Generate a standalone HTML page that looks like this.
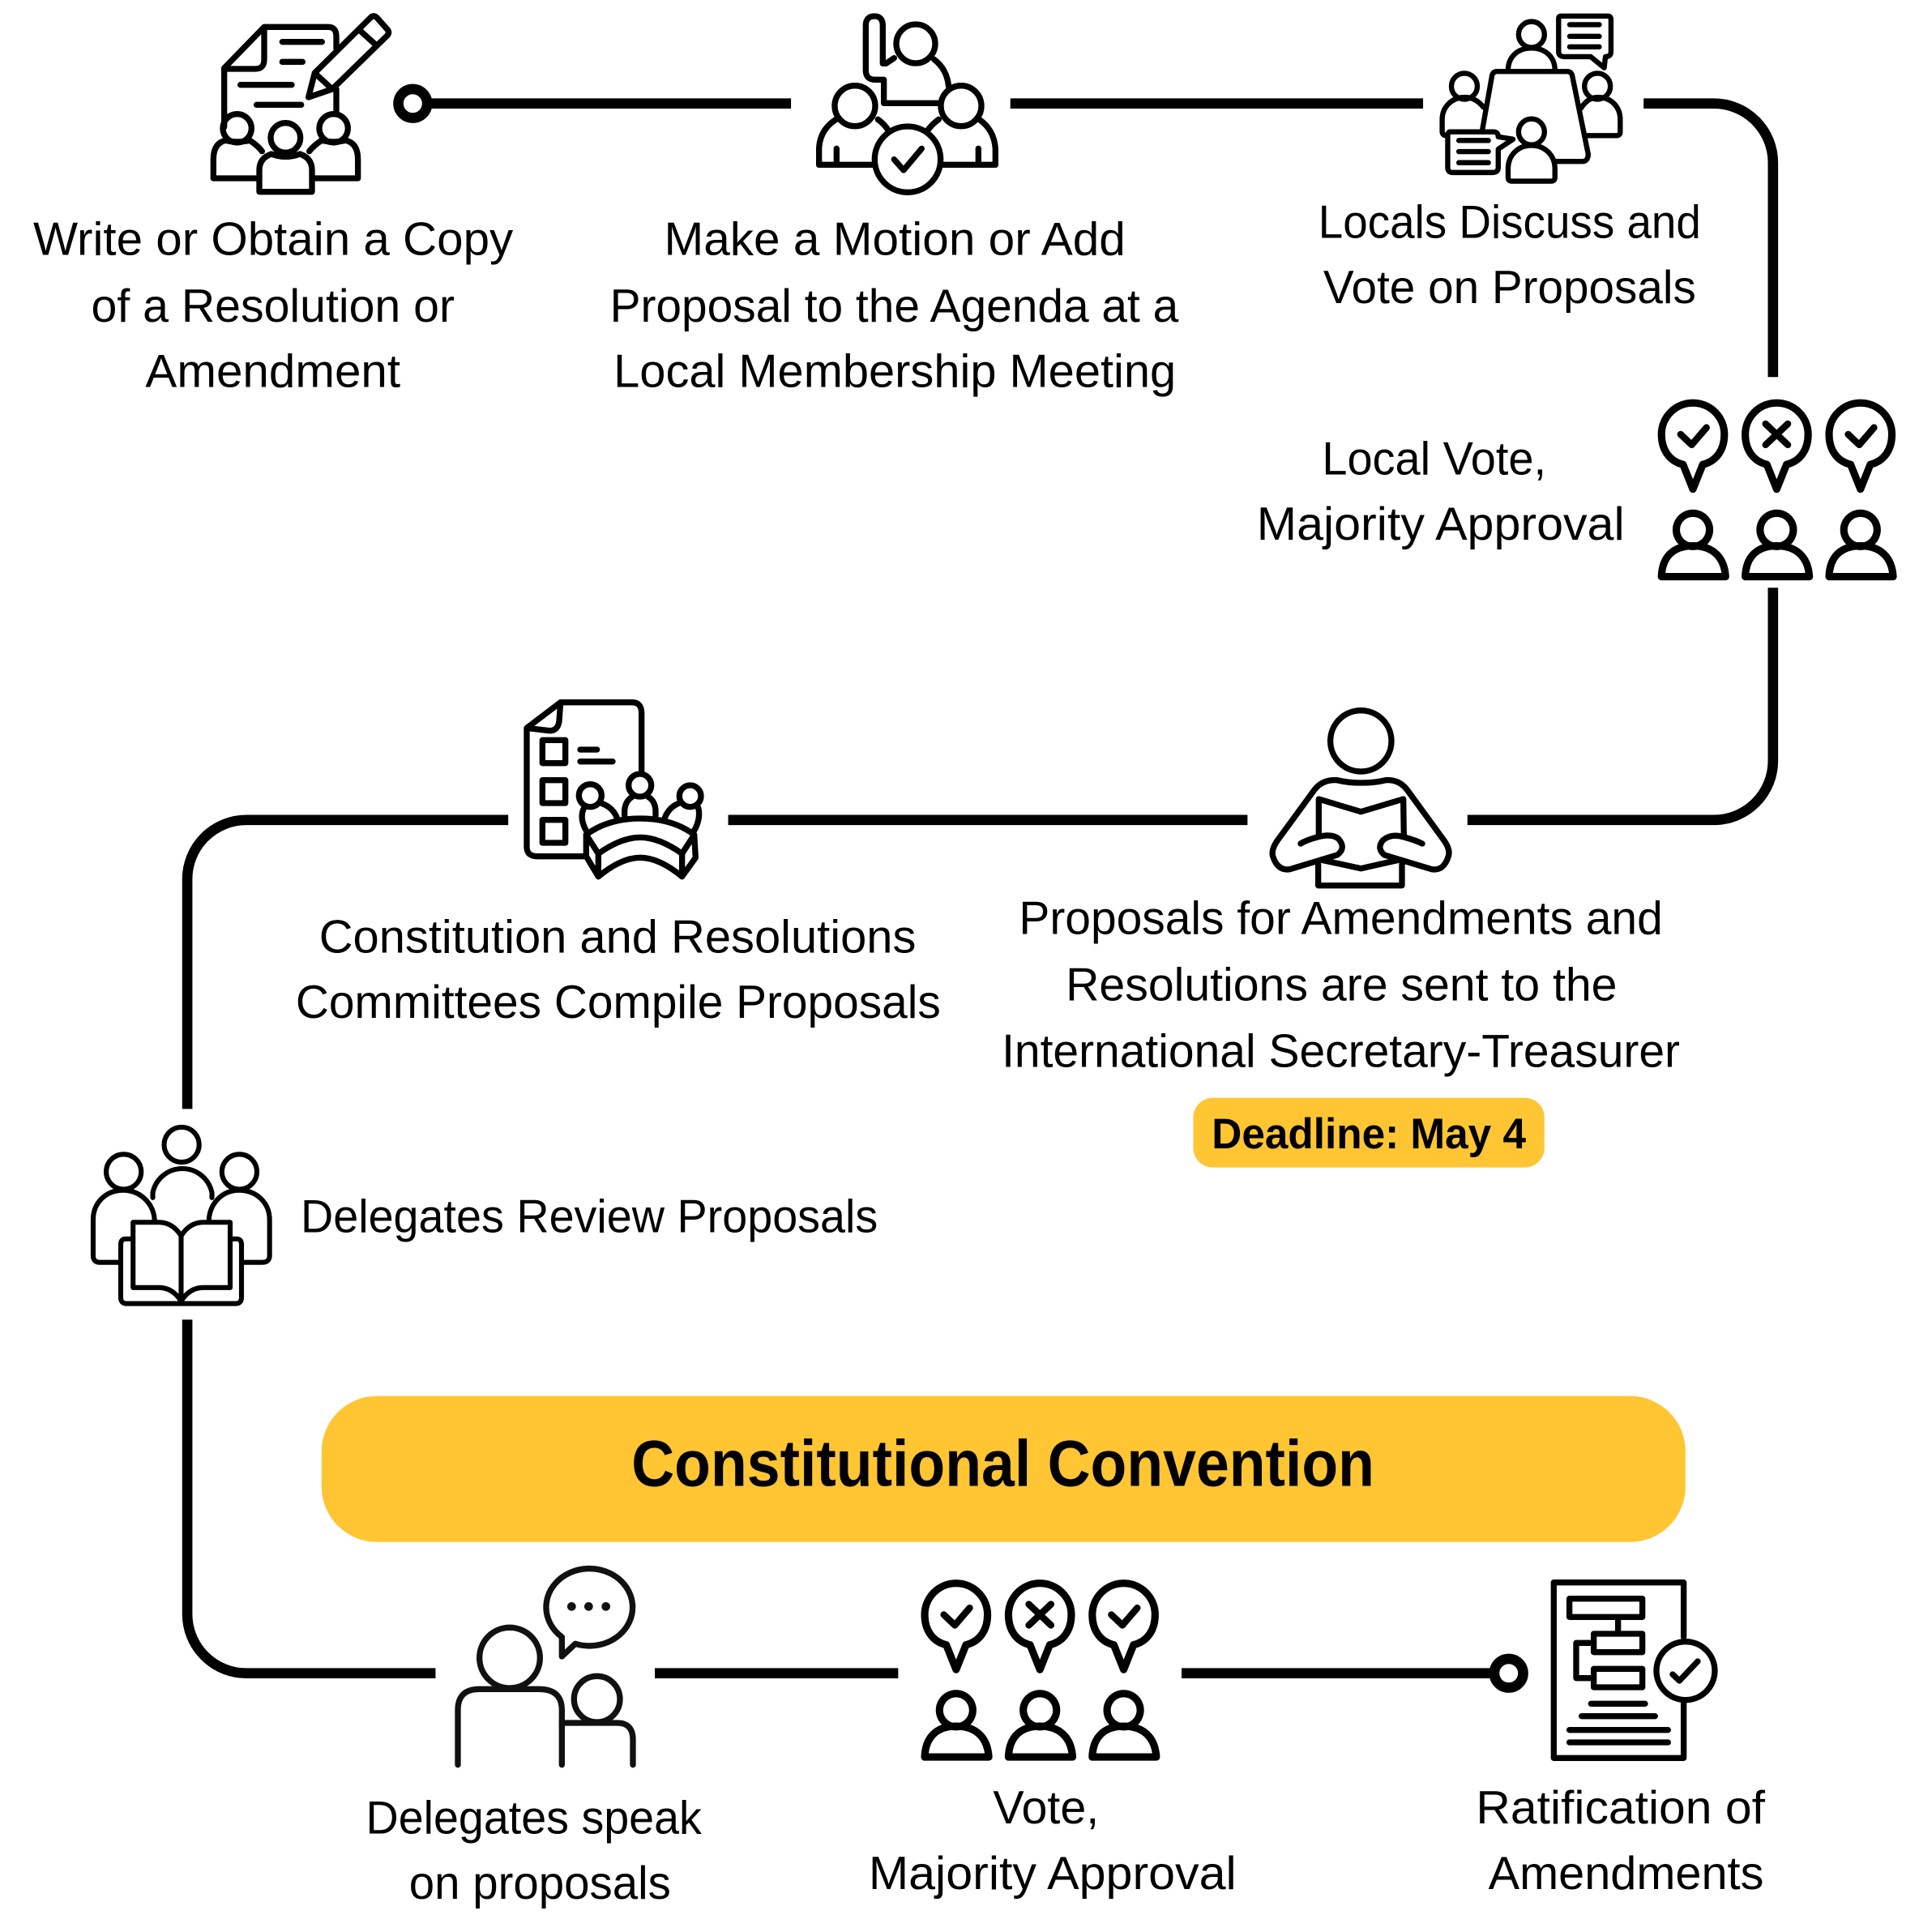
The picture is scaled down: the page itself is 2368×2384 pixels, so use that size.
<!DOCTYPE html>
<html><head><meta charset="utf-8"><style>
html,body{margin:0;padding:0;background:#fff}
svg{display:block}
text{font-family:"Liberation Sans",sans-serif;font-size:38px;fill:#000}
.c{fill:none;stroke:#000;stroke-width:8.3}
.i{fill:none;stroke:#000;stroke-width:4.4;stroke-linecap:round;stroke-linejoin:round}
.z{fill:none;stroke:#000;stroke-width:22;stroke-linecap:round;stroke-linejoin:round}
.w{fill:#fff}
</style></head><body>
<svg width="2368" height="2384" viewBox="0 0 1557.5 1568" xmlns="http://www.w3.org/2000/svg">
<defs>
<g id="vote">
<path d="M1366 377 C1354 374 1348.500 364 1348.500 352.500 A25.500 25.500 0 0 1 1399.500 352.500 C1399.500 364 1394 374 1382 377 L1374 397 Z" style="stroke-width:6"/>
<path d="M1348.500 468 C1349 452 1358 443 1374 443 C1390 443 1399.500 452 1400.500 468 Z M1374 416.500 a13.500 13.500 0 1 0 .01 0Z" style="stroke-width:6"/>
</g>
</defs>

<!-- connectors -->
<path class="c" d="M349 84H642M820 84H1155M1334 84H1391A48 48 0 0 1 1439 132V306M1439 477V617.500A48 48 0 0 1 1391 665.500H1191M1012.500 665.500H591M412.500 665.500H200A48 48 0 0 0 152 713.500V900M152 1071V1310A48 48 0 0 0 200 1358H353.500M531.500 1358H729M959 1358H1212"/>
<circle cx="335" cy="84" r="11.700" fill="#fff" stroke="#000" stroke-width="8.300"/>
<circle cx="1224.500" cy="1358" r="11.700" fill="#fff" stroke="#000" stroke-width="8.300"/>

<!-- badges -->
<rect x="968.500" y="891" width="285" height="56.500" rx="16" fill="#FFC533"/>
<rect x="261" y="1133" width="1107" height="118.500" rx="45" fill="#FFC533"/>
<text x="983.500" y="932" textLength="255" lengthAdjust="spacingAndGlyphs" style="font-weight:700;font-size:35px">Deadline: May 4</text>
<text x="512.500" y="1206" textLength="603" lengthAdjust="spacingAndGlyphs" style="font-weight:700;font-size:53px">Constitutional Convention</text>

<!-- labels -->
<g>
<text x="27" y="207" textLength="389.500" lengthAdjust="spacingAndGlyphs">Write or Obtain a Copy</text>
<text x="74" y="261" textLength="295" lengthAdjust="spacingAndGlyphs">of a Resolution or</text>
<text x="118" y="314" textLength="207" lengthAdjust="spacingAndGlyphs">Amendment</text>
<text x="539" y="207" textLength="374.500" lengthAdjust="spacingAndGlyphs">Make a Motion or Add</text>
<text x="495" y="261" textLength="461.500" lengthAdjust="spacingAndGlyphs">Proposal to the Agenda at a</text>
<text x="498" y="314" textLength="456.500" lengthAdjust="spacingAndGlyphs">Local Membership Meeting</text>
<text x="1070" y="193" textLength="310.500" lengthAdjust="spacingAndGlyphs">Locals Discuss and</text>
<text x="1074" y="246" textLength="302.500" lengthAdjust="spacingAndGlyphs">Vote on Proposals</text>
<text x="1073" y="385" textLength="182" lengthAdjust="spacingAndGlyphs">Local Vote,</text>
<text x="1020" y="438" textLength="298.500" lengthAdjust="spacingAndGlyphs">Majority Approval</text>
<text x="259" y="773" textLength="484.500" lengthAdjust="spacingAndGlyphs">Constitution and Resolutions</text>
<text x="240" y="826" textLength="523.500" lengthAdjust="spacingAndGlyphs">Committees Compile Proposals</text>
<text x="827" y="758" textLength="522.500" lengthAdjust="spacingAndGlyphs">Proposals for Amendments and</text>
<text x="865" y="812" textLength="447.500" lengthAdjust="spacingAndGlyphs">Resolutions are sent to the</text>
<text x="813" y="866" textLength="550.500" lengthAdjust="spacingAndGlyphs">International Secretary-Treasurer</text>
<text x="244" y="1000" textLength="468.500" lengthAdjust="spacingAndGlyphs">Delegates Review Proposals</text>
<text x="297" y="1488" textLength="272.500" lengthAdjust="spacingAndGlyphs">Delegates speak</text>
<text x="332" y="1541" textLength="212.500" lengthAdjust="spacingAndGlyphs">on proposals</text>
<text x="806" y="1480" textLength="86" lengthAdjust="spacingAndGlyphs">Vote,</text>
<text x="705" y="1533" textLength="298.500" lengthAdjust="spacingAndGlyphs">Majority Approval</text>
<text x="1198" y="1480" textLength="234.500" lengthAdjust="spacingAndGlyphs">Ratification of</text>
<text x="1208" y="1533" textLength="223.500" lengthAdjust="spacingAndGlyphs">Amendments</text>
</g>

<!-- icon 1 -->
<g class="z" transform="scale(.21924) translate(750 30)">
<path d="M80 440V222L228 70H465Q495 70 495 105V150M228 70V190Q228 225 195 225H80M495 300V390"/>
<path d="M295 125H442M295 199H370M140 284H330M200 358H365"/>
<path d="M392 330L415 240L625 32Q635 26 645 35L685 80Q692 90 685 100L480 300ZM585 85L640 135M415 240L480 300" class="z w"/>
<circle cx="128" cy="445" r="53"/><circle cx="485" cy="445" r="53"/><circle cx="307" cy="480" r="55"/>
<path d="M205 630H40V560Q40 500 85 490Q128 500 175 490Q205 510 220 530"/>
<path d="M410 630H575V560Q575 500 530 490Q485 500 440 490Q410 510 395 530"/>
<path d="M210 680V600Q210 555 255 540Q307 560 360 540Q405 555 405 600V680Z"/>
</g>

<!-- icon 2 -->
<g class="z" transform="scale(.21924) translate(3000 30)">
<circle cx="390" cy="132" r="72"/>
<path d="M310 185L280 205H268V65Q268 30 237 30Q205 30 205 65V230Q205 265 240 265H272V352H475M458 190Q505 225 512 290"/>
<circle cx="165" cy="362" r="75"/><circle cx="558" cy="362" r="75"/>
<path d="M235 580H32V520Q35 450 95 412M250 412Q275 430 290 455M490 580H685V520Q680 450 625 412M475 412Q450 430 432 455M97 520V578M622 520V578"/>
<circle cx="360" cy="560" r="122"/>
<path d="M310 560L345 600L412 520"/>
</g>

<!-- icon 3 -->
<g class="i" style="stroke-width:4.200">
<circle cx="1243" cy="28" r="10.500"/>
<path d="M1224 57C1224 46 1232 39 1243 39C1254 39 1262 46 1262 57"/>
<path d="M1203 106L1211 61Q1212 58 1215 58H1272Q1275 58 1276 61L1289 125Q1289 131 1284 131H1262"/>
<path d="M1267 13H1305Q1307.500 13 1307.500 16V42Q1307.500 46 1303 46L1302 55L1291 46H1270Q1265 46 1265 42V15Q1265 13 1267 13ZM1274 20H1298M1274 29.500H1298M1274 38H1298"/>
<circle cx="1296.500" cy="70" r="10.500"/>
<path d="M1283 88C1287 82 1291 79 1297 79C1308 79 1315 87 1315 97V107Q1315 110 1312 110H1287"/>
<circle cx="1188.500" cy="70" r="10.500"/>
<path d="M1204 87C1200 82 1195 79 1189 79C1178 79 1170.500 87 1170.500 97V107Q1171 110 1174 110"/>
<path d="M1177 107H1212Q1216 107 1216 111L1228 113L1216 121V136Q1216 140 1211 140H1179Q1175 140 1175 136V110Q1175 107 1177 107ZM1184 114H1208M1184 123H1208M1184 132H1208"/>
<circle cx="1243" cy="107" r="10.500"/>
<path d="M1224 144V137C1224 126 1232 118 1243 118C1254 118 1262 126 1262 137V144Q1262 147 1259 147H1227Q1224 147 1224 144Z" class="w"/>
</g>

<!-- vote icons -->
<g class="i">
<use href="#vote"/><use href="#vote" x="68"/><use href="#vote" x="136"/>
<path d="M1364 352.500L1373 361L1385 347M1500 352.500L1509 361L1521 347M1433 344L1451 361M1451 344L1433 361" style="stroke-width:5.500"/>
<g transform="translate(-598 958)">
<use href="#vote"/><use href="#vote" x="68"/><use href="#vote" x="136"/>
<path d="M1364 352.500L1373 361L1385 347M1500 352.500L1509 361L1521 347M1433 344L1451 361M1451 344L1433 361" style="stroke-width:5.500"/>
</g>
</g>

<!-- icon 4 -->
<g class="z" transform="scale(.21924) translate(1920 2580)">
<path d="M455 285V60Q455 20 420 20H155L30 115V555Q30 590 70 590H245M155 20L150 90Q145 125 115 125L30 115"/>
<rect x="88" y="160" width="85" height="85"/><rect x="88" y="308" width="85" height="85"/><rect x="88" y="455" width="85" height="85"/>
<path d="M228 195H290M228 239H348"/>
<circle cx="265" cy="365" r="42"/><circle cx="449" cy="327" r="42"/><circle cx="635" cy="367" r="40"/>
<path d="M310 395Q350 410 365 450M240 415Q225 450 250 495M392 440V420Q395 385 420 370M507 440V420Q505 385 480 370M540 450Q555 410 590 395M665 410Q675 450 650 495"/>
<path d="M250 510Q330 450 450 450Q570 450 650 510L605 580Q520 520 450 520Q380 520 295 580Z"/>
<path d="M295 580V665Q380 595 450 595Q520 595 605 665V580M250 510V590L295 665M650 510L655 595L605 665"/>
</g>

<!-- icon 5: reader -->
<g class="z" transform="scale(.21924) translate(4650 2580)">
<circle cx="388" cy="163" r="113"/>
<path d="M165 543Q185 530 230 518Q280 505 305 525Q335 560 300 585L125 638Q80 645 62 590Q55 565 80 530L215 345Q245 305 300 308Q340 318 388 318Q440 318 480 308Q530 305 560 345L695 530Q720 565 712 590Q695 645 650 638L475 585Q445 560 470 530Q500 505 545 518Q590 530 615 543"/>
<path d="M232 510V378L388 425L545 378L547 510M240 603L388 635L530 603M230 620V698H540V620"/>
</g>

<!-- icon 6 -->
<g class="i" style="stroke-width:4">
<circle cx="147.400" cy="929" r="14.200"/>
<circle cx="100.400" cy="951" r="14.200"/>
<circle cx="194.300" cy="951" r="14.200"/>
<path d="M97 1024.500H81Q75.600 1024.500 75.600 1019V990C75.600 976 86 966 100 966C113 966 125 976 125.500 991"/>
<path d="M197 1024.500H213Q218.800 1024.500 218.800 1019V990C218.800 976 208 966 194 966C181 966 170 976 169.500 991"/>
<path d="M124 972V968A24.500 24.500 0 0 1 172 968V972"/>
<path d="M147 1003Q140 992 129 992H108V1045H129Q140 1045 147 1056Q154 1045 165 1045H186.800V992H165Q154 992 147 1003V1056"/>
<path d="M107 1005.500H102Q98 1005.500 98 1010V1053Q98 1058 103 1058H191Q196 1058 196 1053V1010Q196 1005.500 192 1005.500H187M103 1058H191"/>
</g>

<!-- icon 7 -->
<g class="z" style="stroke:#111" transform="scale(.21924) translate(1665 5775)">
<path d="M415 285A160 143 0 1 1 465 310L415 357V285Z"/>
<circle cx="451" cy="172" r="16" style="fill:#111;stroke:none"/><circle cx="514" cy="172" r="16" style="fill:#111;stroke:none"/><circle cx="578" cy="172" r="16" style="fill:#111;stroke:none"/>
<circle cx="222" cy="362" r="112"/>
<path d="M30 758V555Q30 478 110 478H330Q415 478 415 555V758"/>
<circle cx="545" cy="515" r="85"/>
<path d="M415 603H620Q678 603 678 665V758"/>
</g>

<!-- icon 8 -->
<g class="z" transform="scale(.21924) translate(5700 5820)">
<path d="M533 240V38H52V688H533V480"/>
<rect x="110" y="98" width="270" height="68"/><rect x="200" y="228" width="180" height="68"/><rect x="200" y="358" width="180" height="68"/>
<path d="M290 170V228M200 262H135V392H200"/>
<circle cx="540" cy="365" r="108"/>
<path d="M492 378L517 402L585 330"/>
<path d="M190 487H390M155 533H427M110 584H475M110 630H475"/>
</g>
</svg>
</body></html>
